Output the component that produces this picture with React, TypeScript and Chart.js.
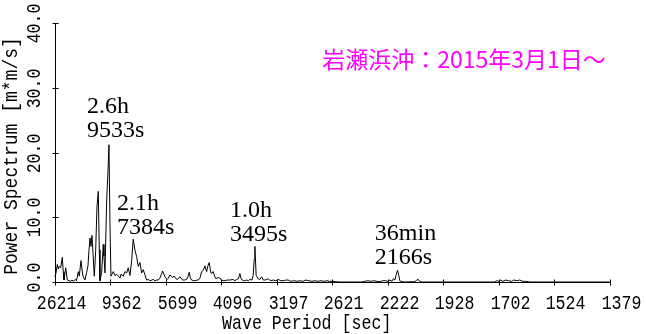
import React, { useEffect, useRef } from 'react';
import { Chart, registerables } from 'chart.js';

Chart.register(...registerables);

// Spectrum length (samples * sec): period = SPECTRUM_N / frequencyIndex
const SPECTRUM_N = 262144;

// Frequency index (linear x axis) of each spectral point
const freqIndex = [
  10.0, 10.32, 10.75, 11.07, 11.3, 11.85, 12.37, 12.69, 12.92, 13.47, 13.99, 14.54, 15.03, 15.51, 16.0,
  16.49, 16.97, 17.56, 17.88, 18.43, 18.76, 19.08, 19.73, 20.28, 20.7, 21.03, 21.35, 21.68, 22.0, 22.42,
  22.75, 23.2, 23.62, 24.04, 24.37, 24.59, 25.15, 25.66, 25.89, 26.22, 26.77, 27.19, 27.51, 27.84, 28.16,
  28.49, 28.91, 29.46, 30.01, 30.53, 31.08, 31.41, 32.15, 32.7, 33.25, 33.77, 34.32, 34.88, 35.39, 35.95,
  36.5, 37.02, 37.57, 38.12, 38.64, 39.19, 39.74, 40.32, 40.81, 41.46, 41.88, 42.43, 42.98, 43.5, 44.05,
  44.54, 44.92, 45.35, 45.68, 46.42, 46.81, 47.3, 48.04, 48.69, 49.24, 49.66, 50.54, 51.42, 52.0, 52.71,
  53.14, 53.56, 53.95, 54.34, 54.92, 55.41, 56.05, 56.48, 57.03, 57.58, 58.1, 58.65, 59.2, 59.62, 60.04,
  60.37, 60.69, 61.34, 61.89, 62.22, 62.96, 63.51, 64.0, 64.49, 65.14, 65.78, 66.76, 67.73, 68.38, 68.93,
  69.51, 70.0, 70.32, 70.75, 71.46, 72.17, 72.76, 73.24, 73.89, 74.31, 74.64, 74.86, 75.28, 75.93, 76.49,
  77.04, 77.62, 78.11, 78.76, 79.18, 79.89, 80.8, 81.68, 82.42, 83.3, 84.04, 84.92, 85.66, 86.54, 87.51,
  88.49, 89.46, 90.43, 91.41, 92.38, 93.35, 94.32, 95.3, 96.27, 97.24, 98.22, 99.19, 100.16, 101.14, 102.43,
  109.57, 110.54, 111.51, 112.49, 113.46, 114.43, 115.41, 116.38, 117.35, 118.0, 118.65, 119.3, 119.78, 120.27, 120.76,
  121.15, 121.57, 121.89, 122.54, 123.51, 126.76, 127.41, 127.89, 128.38, 129.03, 152.7, 153.35, 154.0, 154.65, 155.3,
  156.27, 157.24, 158.22, 158.86, 159.84, 160.81, 161.78, 162.76, 164.05, 190.0,
];

// Power spectrum [m*m/s] at each frequency index
const power = [
  0.8, 1.4, 2.7, 2.0, 2.4, 2.2, 3.8, 1.5, 0.3, 2.2, 0.3, 0.2, 0.1, 0.3, 0.1,
  0.4, 0.2, 1.6, 0.9, 3.3, 2.0, 0.9, 0.3, 1.5, 2.5, 4.9, 6.8, 5.5, 7.2, 3.7,
  0.9, 4.9, 11.6, 14.0, 5.0, 0.2, 1.5, 5.8, 4.0, 1.4, 12.7, 17.0, 21.2, 9.0, 0.9,
  1.2, 1.6, 1.0, 1.2, 0.9, 0.6, 1.2, 0.9, 1.6, 1.4, 2.2, 1.0, 3.3, 6.6, 4.9,
  3.9, 2.4, 3.0, 1.4, 1.9, 1.1, 0.3, 0.4, 0.2, 0.3, 0.4, 0.2, 0.3, 0.3, 0.6,
  1.2, 1.7, 1.2, 0.8, 0.4, 0.6, 1.1, 0.7, 0.9, 0.5, 0.4, 0.8, 0.3, 0.3, 0.4,
  0.8, 1.5, 0.6, 0.3, 0.2, 0.2, 0.3, 0.3, 0.6, 1.6, 1.8, 2.5, 1.6, 2.5, 3.0,
  2.0, 1.3, 1.6, 0.8, 0.5, 0.7, 0.6, 0.3, 0.2, 0.2, 0.3, 0.3, 0.4, 0.2, 0.4,
  0.5, 1.3, 0.6, 0.3, 0.2, 0.3, 0.2, 0.4, 0.3, 1.0, 3.5, 5.5, 1.0, 0.5, 0.4,
  0.8, 0.3, 0.3, 0.4, 0.5, 0.2, 0.3, 0.2, 0.4, 0.2, 0.2, 0.3, 0.3, 0.1, 0.2,
  0.1, 0.2, 0.1, 0.3, 0.2, 0.1, 0.2, 0.1, 0.2, 0.1, 0.2, 0.1, 0.1, 0.05, 0.0,
  0.0, 0.1, 0.2, 0.1, 0.2, 0.1, 0.05, 0.2, 0.2, 0.1, 0.3, 0.1, 0.5, 0.3, 1.2,
  1.8, 1.0, 0.2, 0.05, 0.0, 0.05, 0.3, 0.4, 0.1, 0.0, 0.0, 0.2, 0.1, 0.3, 0.1,
  0.3, 0.2, 0.1, 0.3, 0.2, 0.3, 0.1, 0.1, 0.0, 0.0,
];

// X tick labels: wave period [sec]
const periodTicks = [26214, 9362, 5699, 4096, 3197, 2621, 2222, 1928, 1702, 1524, 1379];
// Y tick values
const powerTicks = [0, 10, 20, 30, 40];

// Peak annotations (two lines each)
const peakLabels = [
  ['2.6h', '9533s'],
  ['2.1h', '7384s'],
  ['1.0h', '3495s'],
  ['36min', '2166s'],
];

const titleText = '岩瀬浜沖：2015年3月1日～';
const xTitle = 'Wave Period [sec]';
const yTitle = 'Power Spectrum [m*m/s]';

// Layout of annotation blocks (data coords of first line's left baseline)
const peakLabelAnchors = [
  { x: 20.38, y: 26.1 },
  { x: 30.11, y: 11.12 },
  { x: 66.76, y: 10.04 },
  { x: 113.78, y: 6.49 },
];

const MONO = '"Liberation Mono", "DejaVu Sans Mono", monospace';

function monoText(
  ctx: CanvasRenderingContext2D,
  text: string,
  x: number,
  y: number,
  align: CanvasTextAlign,
  rotate: boolean,
  sx = 0.83
) {
  ctx.save();
  ctx.translate(x, y);
  if (rotate) ctx.rotate(-Math.PI / 2);
  ctx.scale(sx, 1);
  ctx.textAlign = align;
  ctx.textBaseline = 'middle';
  ctx.fillText(text, 0, 0);
  ctx.restore();
}

const axesPlugin = {
  id: 'customAxes',
  afterDraw(chart: any) {
    const ctx: CanvasRenderingContext2D = chart.ctx;
    const xs = chart.scales.x;
    const ys = chart.scales.y;
    const area = chart.chartArea;
    ctx.save();
    ctx.strokeStyle = '#000';
    ctx.fillStyle = '#000';
    ctx.lineWidth = 1;
    const ax = Math.round(area.left) + 0.5;
    const ay = Math.round(area.bottom) + 0.5;
    ctx.beginPath();
    ctx.moveTo(ax, Math.round(area.top));
    ctx.lineTo(ax, ay);
    ctx.lineTo(Math.round(area.right) + 1, ay);
    ctx.stroke();

    // y ticks
    ctx.font = '20px ' + MONO;
    powerTicks.forEach((v) => {
      const py = Math.round(ys.getPixelForValue(v)) + 0.5;
      ctx.beginPath();
      ctx.moveTo(ax - 3, py);
      ctx.lineTo(ax + 3, py);
      ctx.stroke();
      monoText(ctx, v.toFixed(1), 35, py - 20, 'right', true);
    });

    // x ticks
    periodTicks.forEach((p) => {
      const px = Math.round(xs.getPixelForValue(SPECTRUM_N / p)) + 0.5;
      ctx.beginPath();
      ctx.moveTo(px, ay - 3);
      ctx.lineTo(px, ay + 3);
      ctx.stroke();
      monoText(ctx, String(p), px + 31, 303.5, 'right', false);
    });

    // axis titles
    monoText(ctx, xTitle, 222, 324, 'left', false);
    monoText(ctx, yTitle, 12, 156, 'center', true, 0.9);

    // peak annotations
    ctx.font = '24px "Liberation Serif", "DejaVu Serif", serif';
    ctx.textAlign = 'left';
    ctx.textBaseline = 'alphabetic';
    peakLabels.forEach((lines, i) => {
      const a = peakLabelAnchors[i];
      const lx = xs.getPixelForValue(a.x);
      const ly = ys.getPixelForValue(a.y);
      lines.forEach((t, j) => ctx.fillText(t, lx, ly + j * 24));
    });

    // title
    ctx.font = '23px "Noto Sans CJK JP", sans-serif';
    ctx.fillStyle = '#ff00ff';
    ctx.textAlign = 'center';
    ctx.textBaseline = 'middle';
    ctx.fillText(titleText, 464, 59);
    ctx.restore();
  },
};

export default function App() {
  const ref = useRef<HTMLCanvasElement | null>(null);
  useEffect(() => {
    if (!ref.current) return;
    const points = freqIndex.map((f, i) => ({ x: f, y: power[i] }));
    const chart = new Chart(ref.current, {
      type: 'scatter',
      data: {
        datasets: [
          {
            data: points,
            showLine: true,
            borderColor: '#000',
            borderWidth: 1,
            pointRadius: 0,
            tension: 0,
            clip: false as any,
          },
        ],
      },
      options: {
        responsive: false,
        animation: false,
        devicePixelRatio: 1,
        layout: { padding: { left: 55, right: 36, top: 23, bottom: 52 } },
        plugins: { legend: { display: false }, tooltip: { enabled: false }, title: { display: false } },
        scales: {
          x: { type: 'linear', min: SPECTRUM_N / periodTicks[0], max: SPECTRUM_N / periodTicks[periodTicks.length - 1], display: false },
          y: { type: 'linear', min: powerTicks[0], max: powerTicks[powerTicks.length - 1], display: false },
        },
      },
      plugins: [axesPlugin],
    });
    return () => chart.destroy();
  }, []);
  return (
    <div style={{ position: 'fixed', left: 0, top: 0, width: 646, height: 334, background: '#fff' }}>
      <canvas ref={ref} width={646} height={334} />
    </div>
  );
}
